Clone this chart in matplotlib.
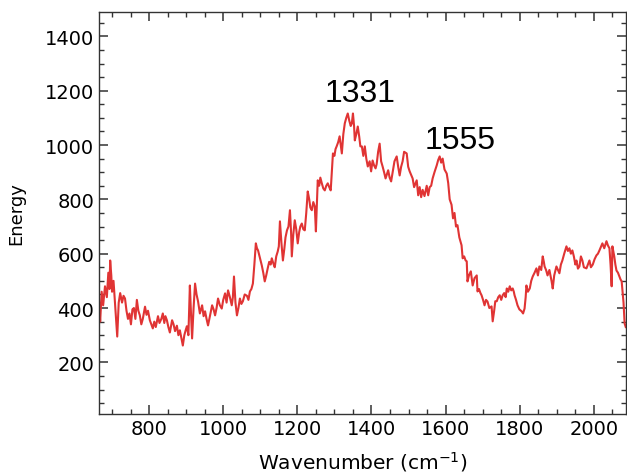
import matplotlib
matplotlib.use("Agg")
import matplotlib.pyplot as plt
from matplotlib.ticker import MultipleLocator

# Raman-like spectrum
wavenumber = [
    665, 668, 672, 676, 681, 686, 690, 693, 695, 698, 700, 704, 708, 711, 714, 718,
    722, 727, 731, 735, 739, 743, 747, 751, 755, 759, 763, 767, 771, 775, 779, 783,
    789, 793, 797, 802, 806, 810, 814, 818, 824, 828, 833, 837, 841, 844, 848, 852,
    856, 862, 866, 870, 875, 879, 883, 887, 891, 895, 899, 902, 906, 910, 913, 916,
    920, 924, 928, 932, 937, 943, 947, 951, 955, 959, 964, 970, 974, 978, 982, 986,
    991, 996, 1000, 1005, 1009, 1013, 1018, 1023, 1026, 1029, 1033, 1037, 1041, 1045,
    1049, 1053, 1058, 1064, 1068, 1072, 1076, 1080, 1084, 1088, 1091, 1094, 1098, 1101,
    1104, 1108, 1112, 1116, 1120, 1124, 1128, 1131, 1135, 1139, 1143, 1147, 1150, 1153,
    1157, 1161, 1165, 1168, 1172, 1176, 1180, 1183, 1185, 1189, 1193, 1197, 1201, 1205,
    1208, 1212, 1216, 1220, 1224, 1228, 1232, 1235, 1239, 1243, 1247, 1250, 1253, 1255,
    1259, 1262, 1266, 1270, 1274, 1278, 1282, 1286, 1290, 1293, 1296, 1300, 1303, 1306,
    1310, 1314, 1317, 1320, 1324, 1328, 1332, 1336, 1340, 1344, 1347, 1350, 1353, 1355,
    1359, 1363, 1367, 1370, 1374, 1378, 1382, 1386, 1390, 1395, 1399, 1403, 1407, 1411,
    1414, 1418, 1422, 1426, 1430, 1434, 1438, 1441, 1445, 1449, 1453, 1457, 1462, 1468,
    1472, 1476, 1480, 1484, 1488, 1495, 1499, 1503, 1507, 1511, 1515, 1522, 1526, 1530,
    1534, 1538, 1543, 1549, 1553, 1557, 1561, 1565, 1570, 1576, 1580, 1584, 1588, 1592,
    1597, 1603, 1607, 1611, 1616, 1620, 1624, 1628, 1632, 1637, 1643, 1646, 1650, 1654,
    1657, 1659, 1663, 1668, 1673, 1678, 1684, 1686, 1690, 1694, 1697, 1701, 1705, 1709,
    1713, 1718, 1724, 1727, 1731, 1734, 1738, 1742, 1746, 1750, 1754, 1758, 1762, 1765,
    1769, 1773, 1777, 1781, 1784, 1786, 1790, 1794, 1799, 1805, 1809, 1813, 1816, 1818,
    1822, 1827, 1831, 1835, 1840, 1845, 1849, 1853, 1858, 1862, 1865, 1867, 1871, 1875,
    1880, 1886, 1889, 1893, 1899, 1903, 1907, 1911, 1915, 1920, 1926, 1930, 1934, 1938,
    1942, 1946, 1950, 1953, 1957, 1961, 1965, 1969, 1973, 1980, 1984, 1988, 1992, 1997,
    2002, 2007, 2011, 2015, 2019, 2023, 2028, 2034, 2038, 2042, 2045, 2048, 2050, 2055,
    2058, 2061, 2065, 2069, 2072, 2075, 2077, 2080, 2083, 2086,
]
energy = [
    420, 350, 460, 410, 480, 440, 530, 470, 575, 520, 460, 500, 420, 360, 295, 420,
    455, 420, 445, 435, 390, 360, 380, 340, 395, 400, 360, 430, 390, 373, 340, 360,
    405, 375, 390, 355, 340, 325, 350, 330, 370, 345, 360, 380, 345, 370, 355, 330,
    310, 355, 340, 315, 335, 300, 318, 290, 262, 300, 320, 333, 300, 483, 380, 288,
    400, 490, 450, 425, 380, 410, 370, 388, 360, 336, 370, 410, 395, 373, 400, 435,
    410, 398, 430, 454, 420, 465, 440, 410, 440, 516, 420, 373, 400, 435,
    415, 425, 450, 445, 430, 461, 470, 490, 560, 638, 620, 612, 590, 575,
    557, 530, 498, 520, 546, 570, 560, 583, 565, 550, 590, 608, 627, 719,
    640, 575, 620, 660, 686, 700, 760, 680, 590, 670, 723, 690, 638, 680,
    700, 711, 690, 686, 750, 829, 800, 770, 760, 790, 774, 682, 790, 870,
    850, 880, 859, 840, 833, 850, 859, 845, 833, 900, 969, 960, 985, 995,
    1010, 1032, 1000, 969, 1040, 1080, 1100, 1116, 1090, 1070, 1080, 1116, 1070, 1017,
    1040, 1068, 1030, 995, 995, 960, 995, 950, 921, 940, 903, 943, 925, 914,
    930, 976, 1005, 940, 921, 900, 877, 890, 907, 880, 866, 900, 940, 958,
    920, 888, 920, 940, 975, 969, 920, 903, 890, 877, 845, 870, 815, 845,
    808, 835, 812, 850, 815, 845, 850, 877, 900, 925, 945, 958, 935, 950,
    910, 895, 860, 800, 780, 730, 750, 700, 705, 660, 631, 583, 590, 575,
    572, 498, 520, 535, 483, 510, 520, 461, 470, 455, 447, 430, 410, 430,
    424, 400, 406, 351, 390, 425, 425, 440, 447, 430, 447, 455, 440, 472,
    460, 480, 465, 472, 460, 447, 430, 410, 395, 388, 380, 398, 440, 483,
    460, 472, 500, 516, 530, 546, 520, 553, 540, 590, 570, 553, 540, 520,
    540, 498, 472, 520, 553, 540, 528, 560, 575, 600, 627, 610, 620, 600,
    612, 590, 560, 575, 545, 553, 590, 575, 550, 546, 560, 575, 550, 560,
    580, 594, 600, 612, 625, 638, 620, 646, 630, 620, 560, 480, 627, 590,
    560, 538, 530, 516, 505, 498, 465, 420, 343, 330,
]
peak_labels = ["1331", "1555"]
peak_x = [1368, 1638]
peak_y = [1190, 1018]

fig = plt.figure(figsize=(6.27, 4.77), dpi=100)
ax = fig.add_axes([0.158, 0.130, 0.840, 0.843])

ax.plot(wavenumber, energy, color="#e03434", linewidth=1.5)

for lab, px, py in zip(peak_labels, peak_x, peak_y):
    ax.text(px, py, lab, fontsize=23, family="Liberation Sans",
            ha="center", va="center", color="black")

ax.set_xlim(665, 2086)
ax.set_ylim(10, 1490)
ax.xaxis.set_major_locator(MultipleLocator(200))
ax.xaxis.set_minor_locator(MultipleLocator(50))
ax.yaxis.set_major_locator(MultipleLocator(200))
ax.yaxis.set_minor_locator(MultipleLocator(50))
ax.tick_params(which="both", direction="in", top=True, right=True,
               labelsize=14, color="#333333")
ax.tick_params(which="major", length=6.5, width=1.1)
ax.tick_params(which="minor", length=3.5, width=1.0)
for s in ax.spines.values():
    s.set_color("#333333")
    s.set_linewidth(1.0)

ax.set_xlabel("Wavenumber (cm$^{-1}$)", fontsize=14.5, labelpad=8)
ax.set_ylabel("Energy", fontsize=13, labelpad=14)

fig.savefig("out.png", dpi=100)
